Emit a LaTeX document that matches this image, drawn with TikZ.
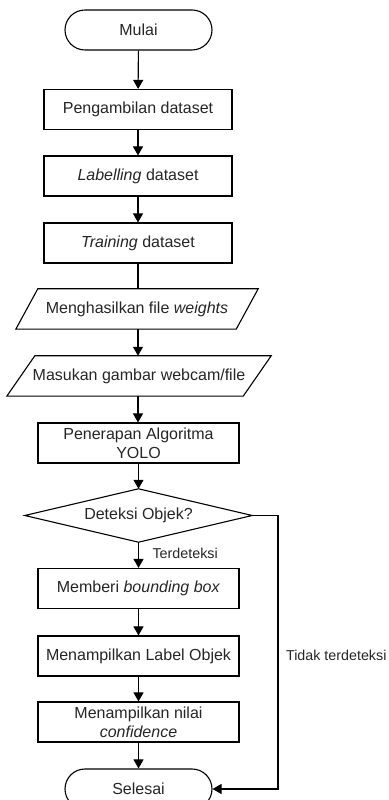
\documentclass[tikz,border=0pt]{standalone}
\usepackage{fontspec}
\setmainfont{Liberation Sans}
\usetikzlibrary{arrows.meta}
\begin{document}
\begin{tikzpicture}[x=1pt,y=1pt,
  every node/.style={font=\fontsize{16}{19}\selectfont, text=black!85, inner sep=0pt},
  proc/.style={draw, line width=1.1pt, minimum width=188pt, minimum height=40pt, align=center},
  procw/.style={proc, minimum width=201pt},
  term/.style={draw, line width=1.1pt, rounded corners=20pt, minimum width=147pt, minimum height=40pt},
  iobox/.style={minimum height=40pt},
  dec/.style={minimum width=227pt, minimum height=53pt},
  lbl/.style={font=\fontsize{14.3}{17}\selectfont},
  conn/.style={line width=1.1pt},
  arr/.style={conn, -{Triangle[length=9pt,width=10pt]}}
]
\clip (0,0) rectangle (388,800);
\fill[white] (0,0) rectangle (388,800);

\node[term] (start) at (138.5,770) {Mulai};
\node[proc] (p1) at (138,690.5) {Pengambilan dataset};
\node[proc] (p2) at (138,624) {\textit{Labelling} dataset};
\node[proc] (p3) at (138,557) {\textit{Training} dataset};
\node[iobox, minimum width=220pt] (io1) at (137,491) {Menghasilkan file \textit{weights}};
\draw[line width=1.1pt] ([xshift=11pt]io1.north west) -- ([xshift=11pt]io1.north east)
  -- ([xshift=-11pt]io1.south east) -- ([xshift=-11pt]io1.south west) -- cycle;
\node[iobox, minimum width=236pt] (io2) at (139,424) {Masukan gambar webcam/file};
\draw[line width=1.1pt] ([xshift=14pt]io2.north west) -- ([xshift=14pt]io2.north east)
  -- ([xshift=-14pt]io2.south east) -- ([xshift=-14pt]io2.south west) -- cycle;
\node[procw] (p4) at (138.5,357) {Penerapan Algoritma\\YOLO};
\node[dec] (d) at (138.5,284.5) {Deteksi Objek?};
\draw[line width=1.1pt] (d.north) -- (d.east) -- (d.south) -- (d.west) -- cycle;
\node[procw] (p5) at (138.5,211.5) {Memberi \textit{bounding box}};
\node[procw] (p6) at (138.5,144) {Menampilkan Label Objek};
\node[procw] (p7) at (138.5,78) {Menampilkan nilai\\\textit{confidence}};
\node[term] (end) at (138.5,11) {Selesai};

\coordinate (r1) at (278,284.5);
\coordinate (r2) at (278,11);

\draw[arr] (start) -- (p1);
\draw[arr] (p1) -- (p2);
\draw[arr] (p2) -- (p3);
\draw[conn] (p3.south) -- (p3.south |- io1.north);
\draw[arr] (io1.south -| p3.south) -- (io2.north -| p3.south);
\draw[arr] (io2.south -| p3.south) -- (p4.north -| p3.south);
\draw[arr] (p4) -- (d.north);
\draw[arr] (d.south) -- node[lbl, pos=0.45, anchor=west, xshift=13.5pt] {Terdeteksi} (p5);
\draw[arr] (p5) -- (p6);
\draw[arr] (p6) -- (p7);
\draw[arr] (p7) -- (end);
\draw[arr] (d.east) -- (r1) -- node[lbl, pos=0.5, anchor=west, xshift=7.5pt, yshift=-3pt] {Tidak terdeteksi} (r2) -- (end.east);
\end{tikzpicture}
\end{document}
